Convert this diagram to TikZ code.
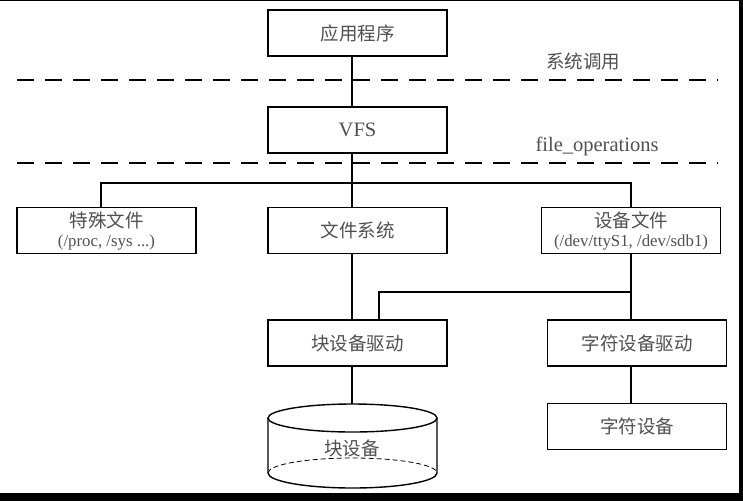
\documentclass[tikz,border=0pt]{standalone}
\usepackage{fontspec}
\setmainfont{Liberation Serif}
\newfontfamily\cjk{Noto Sans CJK SC}
\definecolor{txt}{RGB}{80,80,80}
\begin{document}
\begin{tikzpicture}[x=1pt,y=-1pt,
  box/.style={draw, line width=1.8pt, minimum width=179pt, minimum height=46pt,
    inner sep=0pt, text=txt, align=center, font=\cjk\fontsize{18.5}{22}\selectfont},
  lbl/.style={inner sep=0pt, text=txt, font=\cjk\fontsize{18.5}{22}\selectfont},
  latin/.style={font=\rmfamily\fontsize{20.5}{22}\selectfont},
  conn/.style={line width=1.7pt},
  sep/.style={line width=2pt, dash pattern=on 17pt off 11pt},
]
\useasboundingbox (0,0) rectangle (743,501);
\fill[white] (0,0) rectangle (743,501);
% scan borders
\fill[black] (0,0) rectangle (743,1.2);
\fill[black] (739,0) rectangle (743,501);
\fill[black] (0,493) rectangle (743,501);

% boxes
\node[box] (app) at (357.5,33) {应用程序};
\node[box, latin] (vfs) at (357.5,130) {VFS};
\node[box] (spec) at (106.5,230.5) {特殊文件\\[-3pt]{\rmfamily\fontsize{16.8}{18}\selectfont (/proc, /sys ...)}};
\node[box] (fs) at (357.5,230.5) {文件系统};
\node[box] (dev) at (631,230.5) {设备文件\\[-3pt]{\rmfamily\fontsize{16.8}{18}\selectfont (/dev/ttyS1, /dev/sdb1)}};
\node[box] (blk) at (357.5,343) {块设备驱动};
\node[box] (chr) at (637,343) {字符设备驱动};
\node[box] (chrdev) at (637,426.5) {字符设备};

% labels
\node[lbl] (sc) at (583,61) {系统调用};
\node[lbl, latin] (fo) at (597,146) {file\_operations};

% separators
\draw[sep] (17,80) -- (718,80);
\draw[sep] (17,163) -- (718,163);

% helper coordinates
\coordinate (spine) at (352,0);
\coordinate (busL) at (101,183);
\coordinate (busR) at (631,183);
\coordinate (br) at (379,292);
\coordinate (cyltop) at (352,404);

% connectors
\draw[conn] (app.south -| spine) -- (vfs.north -| spine);
\draw[conn] (vfs.south -| spine) -- (fs.north -| spine);
\draw[conn] (spec.north -| busL) -- (busL) -- (busR) -- (dev.north -| busR);
\draw[conn] (fs.south -| spine) -- (blk.north -| spine);
\draw[conn] (dev.south) -- (chr.north -| dev.south);
\draw[conn] (dev.south |- br) -- (br) -- (blk.north -| br);
\draw[conn] (blk.south -| spine) -- (cyltop);
\draw[conn] (chr.south -| dev.south) -- (chrdev.north -| dev.south);

% cylinder (block device)
\draw[line width=1.4pt] (352.5,418) ellipse [x radius=84.5pt, y radius=14pt];
\draw[line width=1.4pt] (268,418) -- (268,473) arc[start angle=180, end angle=360, x radius=84.5pt, y radius=15pt] -- (437,418);
\draw[line width=0.8pt, dash pattern=on 5pt off 3pt] (268,473) arc[start angle=180, end angle=0, x radius=84.5pt, y radius=15pt];
\node[lbl] (cyl) at (352,448) {块设备};
\end{tikzpicture}
\end{document}
